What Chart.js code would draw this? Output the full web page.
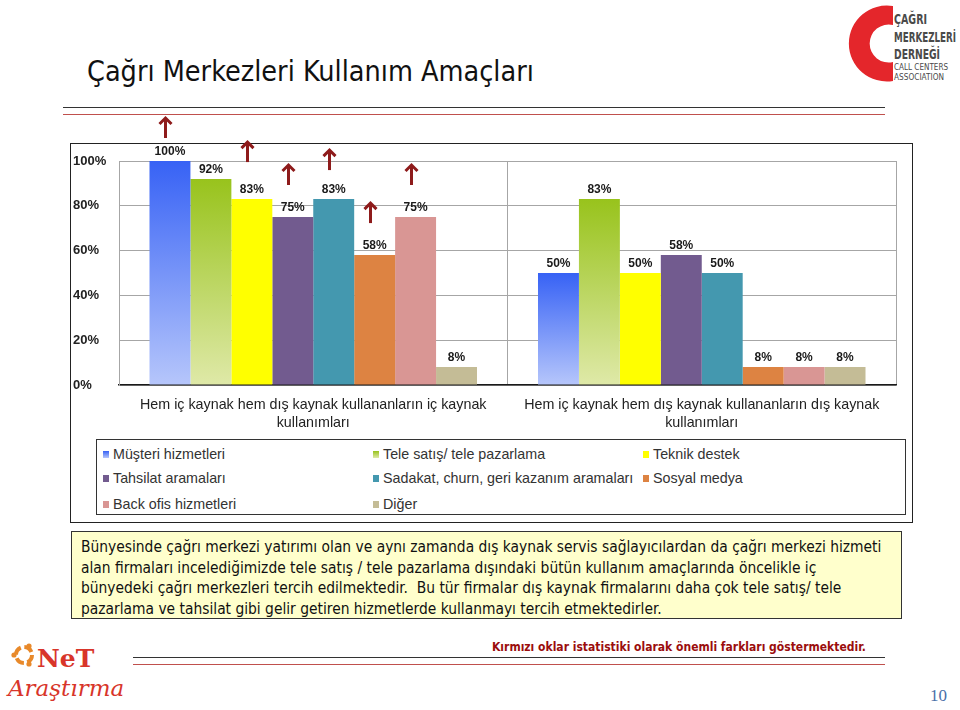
<!DOCTYPE html>
<html>
<head>
<meta charset="utf-8">
<script src="https://cdn.jsdelivr.net/npm/chart.js@4"></script>
<style>
  body { margin: 0; background: #fff; }
  #page { position: relative; width: 960px; height: 710px; overflow: hidden; font-family: "Liberation Sans", Arial, sans-serif; }
  .abs { position: absolute; }
  #title { left: 87px; top: 55px; font-family: "DejaVu Sans Condensed", "DejaVu Sans", sans-serif; font-size: 28.5px; color: #111; white-space: nowrap; }
  .hline { position: absolute; height: 0; }
  #chartBox { left: 70px; top: 143px; width: 843px; height: 380px; border: 1px solid #222; box-sizing: border-box; }
  #legendBox { left: 96px; top: 439px; width: 810px; height: 76px; border: 1px solid #333; box-sizing: border-box; }
  .lg { position: absolute; font-size: 14.3px; color: #333; white-space: nowrap; line-height: 16px; }
  .lg i { position: absolute; left: -10px; top: 5px; width: 6px; height: 7px; }
  #note { left: 71px; top: 531px; width: 831px; height: 88px; background: #ffffcc; border: 1px solid #333; box-sizing: border-box;
          padding: 5px 0 0 9px; font-family: "DejaVu Sans Condensed", "DejaVu Sans", sans-serif; font-size: 15.4px; line-height: 20.5px; color: #111; white-space: nowrap; }
  #sig { left: 492px; top: 640px; font-family: "DejaVu Sans Condensed", "DejaVu Sans", sans-serif; font-weight: bold; font-size: 12px; color: #9b0d0d; white-space: nowrap; }
  #pageNo { left: 930px; top: 686px; font-family: "Liberation Serif", serif; font-size: 17px; color: #4a6fa8; }
  canvas { position: absolute; left: 60px; top: 100px; }
</style>
</head>
<body>
<div id="page">
  <svg class="abs" style="left:840px;top:0" width="120" height="90">
    <path d="M 53 6 A 38 38 0 1 0 53 81 L 53 62 A 19 19 0 1 1 53 25 Z" fill="#e4262b"/>
    <g font-family="DejaVu Sans Condensed, DejaVu Sans, sans-serif" font-weight="bold" fill="#4a4a4a">
      <text x="54" y="24" font-size="14" textLength="33" lengthAdjust="spacingAndGlyphs">ÇAĞRI</text>
      <text x="54" y="42" font-size="14" textLength="62" lengthAdjust="spacingAndGlyphs">MERKEZLERİ</text>
      <text x="54" y="59" font-size="14" textLength="46" lengthAdjust="spacingAndGlyphs">DERNEĞİ</text>
      <text x="54" y="70" font-size="8.5" font-weight="normal" textLength="54" lengthAdjust="spacingAndGlyphs">CALL CENTERS</text>
      <text x="54" y="80" font-size="8.5" font-weight="normal" textLength="50" lengthAdjust="spacingAndGlyphs">ASSOCIATION</text>
    </g>
  </svg>

  <div id="title" class="abs">Çağrı Merkezleri Kullanım Amaçları</div>
  <div class="hline" style="left:63px;top:107px;width:822px;border-top:1px solid #333"></div>
  <div class="hline" style="left:63px;top:114px;width:822px;border-top:1px solid #c0504d"></div>

  <div id="chartBox" class="abs"></div>
  <div id="legendBox" class="abs"></div>
  <div id="legend"></div>

  <div id="note" class="abs">Bünyesinde çağrı merkezi yatırımı olan ve aynı zamanda dış kaynak servis sağlayıcılardan da çağrı merkezi hizmeti<br>alan firmaları incelediğimizde tele satış / tele pazarlama dışındaki bütün kullanım amaçlarında öncelikle iç<br>bünyedeki çağrı merkezleri tercih edilmektedir.&nbsp; Bu tür firmalar dış kaynak firmalarını daha çok tele satış/ tele<br>pazarlama ve tahsilat gibi gelir getiren hizmetlerde kullanmayı tercih etmektedirler.</div>

  <div id="sig" class="abs">Kırmızı oklar istatistiki olarak önemli farkları göstermektedir.</div>
  <div class="hline" style="left:133px;top:657px;width:752px;border-top:1px solid #333"></div>
  <div class="hline" style="left:133px;top:664px;width:752px;border-top:1px solid #c0504d"></div>

  <svg class="abs" style="left:0;top:636px" width="140" height="70">
    <circle cx="24" cy="19" r="8" fill="none" stroke="#e8892a" stroke-width="4" stroke-dasharray="9 3.6"/>
    <circle cx="14" cy="19" r="2.6" fill="#e8892a"/>
    <circle cx="29" cy="10" r="2.6" fill="#e8892a"/>
    <circle cx="29" cy="28" r="2.6" fill="#e8892a"/>
    <text x="37" y="31" font-family="DejaVu Serif, serif" font-weight="bold" font-size="25" fill="#d8352a">NeT</text>
    <text x="8" y="60" font-family="DejaVu Serif, serif" font-style="italic" font-size="23" fill="#d8352a">Araştırma</text>
  </svg>

  <div id="pageNo" class="abs">10</div>

  <canvas id="chart" width="860" height="340"></canvas>
</div>

<script>
// categories (x axis) and series, one value per category
const CATEGORIES = [
  ['Hem iç kaynak hem dış kaynak kullananların iç kaynak', 'kullanımları'],
  ['Hem iç kaynak hem dış kaynak kullananların dış kaynak', 'kullanımları'],
];

const MUSTERI   = [100, 50];
const TELESATIS = [92, 83];
const TEKNIK    = [83, 50];
const TAHSILAT  = [75, 58];
const SADAKAT   = [83, 50];
const SOSYAL    = [58, 8];
const BACKOFIS  = [75, 8];
const DIGER     = [8, 8];

const SERIES_NAMES = [
  'Müşteri hizmetleri', 'Tele satış/ tele pazarlama', 'Teknik destek',
  'Tahsilat aramaları', 'Sadakat, churn, geri kazanım aramaları', 'Sosyal medya',
  'Back ofis hizmetleri', 'Diğer',
];

const Y_TICKS = [0, 20, 40, 60, 80, 100];

// series (dataset index) with a significant difference, marked by red arrows on the first group
const SIGNIFICANT = [0, 2, 3, 4, 5, 6];

const SERIES_VALUES = [MUSTERI, TELESATIS, TEKNIK, TAHSILAT, SADAKAT, SOSYAL, BACKOFIS, DIGER];

// solid colours, or [top, bottom] for the gradient bars
const COLORS = [
  ['#3762f5', '#b6c6fb'],
  ['#98c31c', '#dfe9a8'],
  '#ffff00',
  '#725b8f',
  '#4498af',
  '#dd8342',
  '#d99694',
  '#c4bc96',
];

function barFill(c) {
  return function (ctx) {
    if (typeof c === 'string') return c;
    const chart = ctx.chart;
    const y = chart.scales.y;
    if (!chart.chartArea || !y || ctx.raw == null) return c[0];
    const top = y.getPixelForValue(ctx.raw);
    const bottom = y.getPixelForValue(0);
    const g = chart.ctx.createLinearGradient(0, top, 0, bottom);
    g.addColorStop(0, c[0]);
    g.addColorStop(1, c[1]);
    return g;
  };
}

// value labels above each bar
const valueLabels = {
  id: 'valueLabels',
  afterDatasetsDraw(chart) {
    const ctx = chart.ctx;
    ctx.save();
    ctx.font = 'bold 12px "Liberation Sans", Arial, sans-serif';
    ctx.fillStyle = '#1a1a1a';
    ctx.textAlign = 'center';
    ctx.textBaseline = 'alphabetic';
    chart.data.datasets.forEach((ds, i) => {
      chart.getDatasetMeta(i).data.forEach((bar, j) => {
        ctx.fillText(ds.data[j] + '%', bar.x, bar.y - 6);
      });
    });
    ctx.restore();
  }
};

// red up arrows
const arrows = {
  id: 'arrows',
  afterDatasetsDraw(chart, args, opts) {
    const ctx = chart.ctx;
    ctx.save();
    ctx.strokeStyle = '#8e1b1b';
    ctx.lineWidth = 3;
    SIGNIFICANT.forEach((ds, k) => {
      const bar = chart.getDatasetMeta(ds).data[0];
      const x = Math.round(bar.x - 5) + 0.5;
      const bottom = bar.y - opts.lift[k];
      const top = bottom - 21;
      ctx.beginPath();
      ctx.moveTo(x, bottom);
      ctx.lineTo(x, top + 2);
      ctx.stroke();
      ctx.beginPath();
      ctx.moveTo(x - 6, top + 7);
      ctx.lineTo(x, top + 1);
      ctx.lineTo(x + 6, top + 7);
      ctx.stroke();
    });
    ctx.restore();
  }
};

Chart.defaults.font.family = '"Liberation Sans", Arial, sans-serif';
Chart.defaults.color = '#222';

const chart = new Chart(document.getElementById('chart'), {
  type: 'bar',
  data: {
    labels: CATEGORIES,
    datasets: SERIES_VALUES.map((vals, i) => ({
      label: SERIES_NAMES[i],
      data: vals,
      backgroundColor: barFill(COLORS[i]),
      borderWidth: 0,
      barPercentage: 1,
      categoryPercentage: 0.843,
    })),
  },
  options: {
    responsive: false,
    animation: false,
    layout: { padding: { top: 61, left: 13, right: 24, bottom: 0 } },
    plugins: {
      legend: { display: false },
      tooltip: { enabled: false },
      arrows: { lift: [23, 37, 32, 29, 32, 32] },
    },
    scales: {
      x: {
        grid: { color: '#a6a6a6', drawTicks: false, offset: true },
        border: { color: '#1a1a1a', width: 1.5 },
        ticks: { padding: 11, font: { size: 14.3, lineHeight: 1.27 }, color: '#222', maxRotation: 0 },
        afterFit: s => { s.height = 55; },
      },
      y: {
        min: 0,
        max: 100,
        afterBuildTicks: s => { s.ticks = Y_TICKS.map(v => ({ value: v })); },
        grid: { color: '#a6a6a6', drawTicks: false },
        border: { color: '#a6a6a6' },
        ticks: {
          callback: v => v + '%',
          font: { size: 13, weight: 'bold' },
          color: '#222',
          crossAlign: 'far',
          padding: 0,
        },
        afterFit: s => { s.width = 46; },
      },
    },
  },
  plugins: [valueLabels, arrows],
});

// legend, 3 columns, built from the chart datasets
const LEGEND_COLS = [113, 383, 653];
const LEGEND_ROWS = [446, 470, 496];
const legendEl = document.getElementById('legend');
chart.data.datasets.forEach((ds, i) => {
  const c = COLORS[i];
  const bg = typeof c === 'string' ? c : `linear-gradient(${c[0]}, ${c[1]})`;
  const d = document.createElement('div');
  d.className = 'lg';
  d.style.left = LEGEND_COLS[i % 3] + 'px';
  d.style.top = LEGEND_ROWS[Math.floor(i / 3)] + 'px';
  d.innerHTML = `<i style="background:${bg}"></i>${ds.label}`;
  legendEl.appendChild(d);
});
</script>
</body>
</html>
